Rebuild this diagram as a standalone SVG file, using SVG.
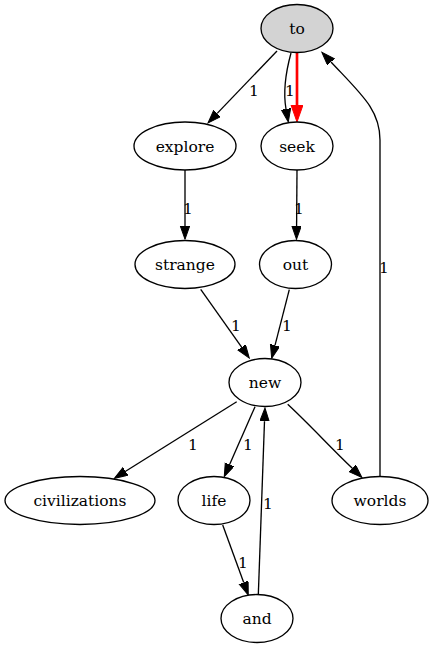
<svg xmlns="http://www.w3.org/2000/svg" width="433" height="649" viewBox="0 0 433 649">
<style>
.n ellipse{fill:#fff;stroke:#000;stroke-width:1.33}
text{font-family:'DejaVu Serif',serif;font-size:15.5px;text-anchor:middle;fill:#000}
.e path{fill:none;stroke:#000;stroke-width:1.33}
</style>
<defs>
<marker id="a" markerUnits="userSpaceOnUse" markerWidth="15" markerHeight="11" refX="0" refY="4.7" orient="auto"><path d="M0,0 L13.3,4.7 L0,9.4 Z" fill="#000" stroke="#000" stroke-width="1"/></marker>
<marker id="r" markerUnits="userSpaceOnUse" markerWidth="19" markerHeight="13" refX="0" refY="6" orient="auto"><path d="M0,0 L17,6 L0,12 Z" fill="#f00" stroke="#f00" stroke-width="1"/></marker>
</defs>
<rect width="433" height="649" fill="#fff"/>
<g id="edges" class="e">
<path d="M277,51 L217.2,113.4" marker-end="url(#a)"/>
<path d="M291,53 C285,75 283,92 286,109" marker-end="url(#a)"/>
<path d="M297,53 L297,105" style="stroke:#f00;stroke-width:2.67" marker-end="url(#r)"/>
<path d="M185,170 L185,226" marker-end="url(#a)"/>
<path d="M297,170 L296.6,226" marker-end="url(#a)"/>
<path d="M200.7,289.3 L241.6,347.2" marker-end="url(#a)"/>
<path d="M289.3,289.7 L275,345.4" marker-end="url(#a)"/>
<path d="M236.7,401.7 L125.6,471.3" marker-end="url(#a)"/>
<path d="M255,406.7 L229.6,464.5" marker-end="url(#a)"/>
<path d="M287.7,404.3 C310,425 330,447 352.3,468.3" marker-end="url(#a)"/>
<path d="M222.7,525 L243.7,582.5" marker-end="url(#a)"/>
<path d="M258.3,595 L264.5,421.3" marker-end="url(#a)"/>
<path d="M380,477 L380,140 C380,110 362,95 331,62" marker-end="url(#a)"/>
<text x="254" y="96">1</text>
<text x="290" y="96">1</text>
<text x="188" y="213.5">1</text>
<text x="299" y="213.5">1</text>
<text x="236" y="331">1</text>
<text x="287" y="331">1</text>
<text x="193" y="450">1</text>
<text x="248" y="450">1</text>
<text x="340" y="450">1</text>
<text x="243" y="567.5">1</text>
<text x="268" y="508.5">1</text>
<text x="384" y="272.5">1</text>
</g>
<g id="node-to" class="n"><ellipse cx="297" cy="28.5" rx="36" ry="24" style="fill:#d3d3d3"/><text x="297" y="34">to</text></g>
<g id="node-explore" class="n"><ellipse cx="185" cy="146" rx="51" ry="24"/><text x="185" y="151.5">explore</text></g>
<g id="node-seek" class="n"><ellipse cx="297" cy="146" rx="36" ry="24"/><text x="297" y="151.5">seek</text></g>
<g id="node-strange" class="n"><ellipse cx="185" cy="264.5" rx="50" ry="24"/><text x="185" y="270">strange</text></g>
<g id="node-out" class="n"><ellipse cx="295.5" cy="264.5" rx="36" ry="24"/><text x="295.5" y="270">out</text></g>
<g id="node-new" class="n"><ellipse cx="265" cy="382.5" rx="36" ry="24"/><text x="265" y="388">new</text></g>
<g id="node-civilizations" class="n"><ellipse cx="80" cy="500.5" rx="75" ry="24"/><text x="80" y="506">civilizations</text></g>
<g id="node-life" class="n"><ellipse cx="214" cy="500.5" rx="36" ry="24"/><text x="214" y="506">life</text></g>
<g id="node-worlds" class="n"><ellipse cx="380" cy="500.5" rx="48" ry="24"/><text x="380" y="506">worlds</text></g>
<g id="node-and" class="n"><ellipse cx="257" cy="618.5" rx="36" ry="24"/><text x="257" y="624">and</text></g>
</svg>
